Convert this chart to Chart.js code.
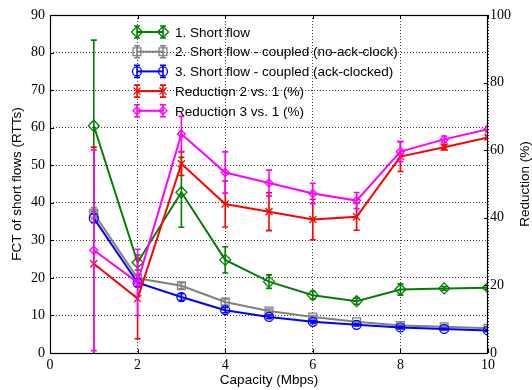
<!DOCTYPE html>
<html>
<head>
<meta charset="utf-8">
<script src="https://cdn.jsdelivr.net/npm/chart.js@4/dist/chart.umd.min.js"></script>
<style>
  html, body { margin: 0; padding: 0; background: #fff; }
  #wrap { width: 532px; height: 390px; }
</style>
</head>
<body>
<div id="wrap"><canvas id="chart" width="532" height="390"></canvas></div>
<script>
// Datos
const capacity = [1, 2, 3, 4, 5, 6, 7, 8, 9, 10];

const shortFlow = [60.5, 24.1, 42.8, 24.8, 19.0, 15.4, 13.8, 16.9, 17.2, 17.4];
const shortFlowErr = [22.8, 2.0, 9.3, 3.5, 1.8, 1.0, 0.8, 1.5, 0.5, 0.5];

const coupledNoAck = [37.2, 19.9, 17.9, 13.6, 11.2, 9.6, 8.3, 7.3, 7.0, 6.6];
const coupledNoAckErr = [1.5, 1.0, 0.8, 0.8, 0.5, 0.4, 0.3, 0.3, 0.3, 0.3];

const coupledAck = [35.9, 18.7, 14.9, 11.4, 9.6, 8.3, 7.5, 6.8, 6.4, 6.0];
const coupledAckErr = [1.2, 1.0, 0.9, 0.7, 0.5, 0.4, 0.3, 0.3, 0.2, 0.2];

const reduction2 = [26.4, 16.1, 56.0, 44.1, 41.8, 39.5, 40.3, 58.1, 60.9, 63.8];
const reduction2Err = [34.5, 11.9, 3.5, 6.8, 5.6, 6.0, 4.0, 4.4, 0.8, 0.5];

const reduction3 = [30.4, 20.9, 64.8, 53.4, 50.3, 47.2, 45.1, 59.6, 63.2, 66.2];
const reduction3Err = [29.7, 9.8, 5.2, 6.1, 3.8, 3.0, 2.4, 3.0, 1.0, 0.8];

const xTicks = [0, 2, 4, 6, 8, 10];
const leftTicks = [0, 10, 20, 30, 40, 50, 60, 70, 80, 90];
const rightTicks = [0, 20, 40, 60, 80, 100];

const labels = [
  '1. Short flow',
  '2. Short flow - coupled (no-ack-clock)',
  '3. Short flow - coupled (ack-clocked)',
  'Reduction 2 vs. 1 (%)',
  'Reduction 3 vs. 1 (%)'
];

const tickFont = { family: '"Liberation Serif", "Times New Roman", serif', size: 14 };
const sansFont = '"Liberation Sans", Arial, sans-serif';

function points(ys) {
  return capacity.map((x, i) => ({ x: x, y: ys[i] }));
}

function serie(label, ys, errs, color, style, radius, axis, order) {
  return {
    label: label,
    data: points(ys),
    errors: errs,
    yAxisID: axis,
    order: order,
    borderColor: color,
    backgroundColor: color,
    borderWidth: 2,
    tension: 0,
    fill: false,
    pointStyle: style,
    pointRadius: radius,
    pointHoverRadius: radius,
    pointBorderColor: color,
    pointBackgroundColor: 'rgba(0,0,0,0)',
    pointBorderWidth: 1.3
  };
}

const datasets = [
  serie(labels[0], shortFlow, shortFlowErr, '#008000', 'rectRot', 5.5, 'y', 5),
  serie(labels[1], coupledNoAck, coupledNoAckErr, '#808080', 'rect', 5.5, 'y', 4),
  serie(labels[2], coupledAck, coupledAckErr, '#0000ff', 'circle', 4.5, 'y', 3),
  serie(labels[3], reduction2, reduction2Err, '#ff0000', 'crossRot', 5, 'y2', 2),
  serie(labels[4], reduction3, reduction3Err, '#ff00ff', 'rectRot', 4, 'y2', 1)
];

// Barras de error dibujadas con las escalas del grafico
function drawErrorBar(ctx, x, yTop, yBot, color) {
  ctx.strokeStyle = color;
  ctx.lineWidth = 1.6;
  ctx.beginPath();
  ctx.moveTo(x, yTop); ctx.lineTo(x, yBot);
  ctx.moveTo(x - 3, yTop); ctx.lineTo(x + 3, yTop);
  ctx.moveTo(x - 3, yBot); ctx.lineTo(x + 3, yBot);
  ctx.stroke();
}

const errorBars = {
  id: 'errorBars',
  afterDatasetDraw(chart, args) {
    const ds = chart.data.datasets[args.index];
    const xs = chart.scales.x;
    const ys = chart.scales[ds.yAxisID];
    const area = chart.chartArea;
    const ctx = chart.ctx;
    ctx.save();
    ctx.beginPath();
    ctx.rect(area.left, area.top, area.right - area.left, area.bottom - area.top);
    ctx.clip();
    ds.data.forEach((p, i) => {
      const e = ds.errors[i];
      drawErrorBar(ctx, xs.getPixelForValue(p.x), ys.getPixelForValue(p.y + e),
        ys.getPixelForValue(p.y - e), ds.borderColor);
    });
    ctx.restore();
  }
};

// Marco, marcas interiores, titulo derecho y leyenda
const frameAndLegend = {
  id: 'frameAndLegend',
  afterDraw(chart) {
    const ctx = chart.ctx;
    const a = chart.chartArea;
    const sx = chart.scales.x, sy = chart.scales.y, sy2 = chart.scales.y2;
    ctx.save();
    ctx.strokeStyle = '#000';
    ctx.lineWidth = 1;
    ctx.setLineDash([]);
    ctx.beginPath();
    xTicks.forEach(v => {
      const px = Math.round(sx.getPixelForValue(v)) + 0.5;
      ctx.moveTo(px, a.bottom); ctx.lineTo(px, a.bottom - 4);
      ctx.moveTo(px, a.top); ctx.lineTo(px, a.top + 4);
    });
    leftTicks.forEach(v => {
      const py = Math.round(sy.getPixelForValue(v)) + 0.5;
      ctx.moveTo(a.left, py); ctx.lineTo(a.left + 4, py);
    });
    rightTicks.forEach(v => {
      const py = Math.round(sy2.getPixelForValue(v)) + 0.5;
      ctx.moveTo(a.right, py); ctx.lineTo(a.right - 4, py);
    });
    ctx.stroke();
    ctx.lineWidth = 1.2;
    ctx.strokeRect(a.left + 0.5, a.top + 0.5, a.right - a.left - 1, a.bottom - a.top);

    // titulo del eje derecho, leido de abajo hacia arriba
    ctx.save();
    ctx.translate(525, (a.top + a.bottom) / 2);
    ctx.rotate(-Math.PI / 2);
    ctx.font = '13.5px ' + sansFont;
    ctx.fillStyle = '#000';
    ctx.textAlign = 'center';
    ctx.textBaseline = 'middle';
    ctx.fillText('Reduction (%)', 0, 0);
    ctx.restore();

    // leyenda
    const x1 = 137, x2 = 163;
    ctx.font = '13.5px ' + sansFont;
    ctx.textBaseline = 'middle';
    ctx.textAlign = 'left';
    datasets.forEach((ds, i) => {
      const y = 32 + i * 19.7;
      ctx.strokeStyle = ds.borderColor;
      ctx.lineWidth = 2;
      ctx.beginPath();
      ctx.moveTo(x1, y); ctx.lineTo(x2, y);
      ctx.stroke();
      drawErrorBar(ctx, x1, y - 6, y + 6, ds.borderColor);
      drawErrorBar(ctx, x2, y - 6, y + 6, ds.borderColor);
      [x1, x2].forEach(px => {
        ctx.strokeStyle = ds.borderColor;
        ctx.fillStyle = 'rgba(0,0,0,0)';
        ctx.lineWidth = 1.3;
        Chart.helpers.drawPoint(ctx, {
          pointStyle: ds.pointStyle, radius: ds.pointRadius, rotation: 0, borderWidth: 1.3
        }, px, y);
      });
      ctx.fillStyle = '#000';
      ctx.fillText(ds.label, 175, y + 1);
    });
    ctx.restore();
  }
};

const gridDash = [1, 2];

new Chart(document.getElementById('chart'), {
  type: 'line',
  data: { datasets: datasets },
  plugins: [errorBars, frameAndLegend],
  options: {
    responsive: false,
    animation: false,
    layout: { padding: { top: 15, left: 0, right: 0, bottom: 0 } },
    plugins: {
      legend: { display: false },
      tooltip: { enabled: false }
    },
    scales: {
      x: {
        type: 'linear',
        min: 0,
        max: 10,
        afterFit(s) { s.height = 37; },
        afterBuildTicks(s) { s.ticks = xTicks.map(v => ({ value: v })); },
        ticks: { font: tickFont, color: '#000', padding: 4, maxRotation: 0 },
        grid: { color: 'rgba(0,0,0,0.75)', lineWidth: 1, drawTicks: false },
        border: { display: false, dash: gridDash },
        title: {
          display: true,
          text: 'Capacity (Mbps)',
          color: '#000',
          font: { family: sansFont, size: 13.5, lineHeight: 1 },
          padding: { top: 0, bottom: 3 }
        }
      },
      y: {
        type: 'linear',
        position: 'left',
        min: 0,
        max: 90,
        afterFit(s) { s.width = 50; },
        afterBuildTicks(s) { s.ticks = leftTicks.map(v => ({ value: v })); },
        ticks: { font: tickFont, color: '#000', padding: 5 },
        grid: { color: 'rgba(0,0,0,0.75)', lineWidth: 1, drawTicks: false },
        border: { display: false, dash: gridDash },
        title: {
          display: true,
          text: 'FCT of short flows (RTTs)',
          color: '#000',
          font: { family: sansFont, size: 13.5, lineHeight: 1 },
          padding: { top: 11, bottom: 0 }
        }
      },
      y2: {
        type: 'linear',
        position: 'right',
        min: 0,
        max: 100,
        afterFit(s) { s.width = 44; },
        afterBuildTicks(s) { s.ticks = rightTicks.map(v => ({ value: v })); },
        ticks: { font: tickFont, color: '#000', padding: 2 },
        grid: { display: false, drawTicks: false },
        border: { display: false }
      }
    }
  }
});
</script>
</body>
</html>
